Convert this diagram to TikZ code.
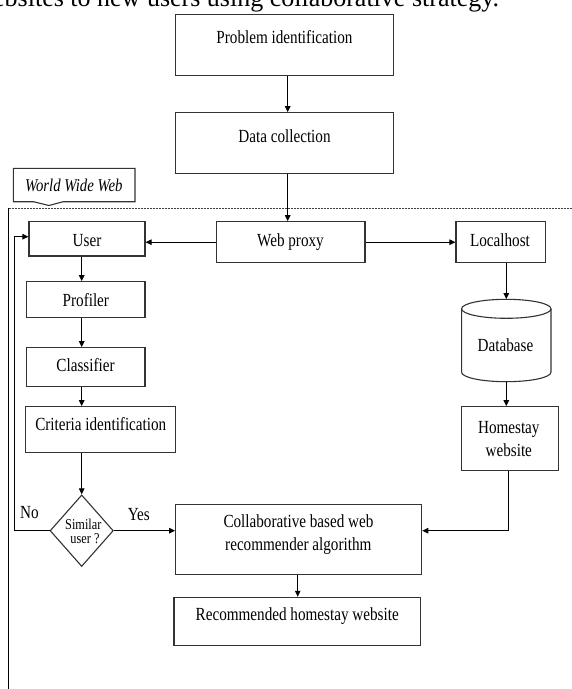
\documentclass[tikz,border=0pt]{standalone}
\usepackage{fontspec}
\setmainfont{Liberation Serif}
\newfontfamily\condfont{Liberation Serif}[FakeStretch=0.82]
\usetikzlibrary{arrows.meta,shapes.geometric,calc}
\tikzset{
  box/.style={draw=black!80, line width=1.1pt, fill=white, inner sep=0pt, rectangle},
  txt/.style={inner sep=0pt, anchor=base, font=\condfont\fontsize{18.5}{24}\selectfont, text=black},
  smalltxt/.style={inner sep=0pt, anchor=base, font=\condfont\fontsize{15}{17}\selectfont, text=black},
  arr/.style={draw=black, line width=1pt, -{Triangle[length=6pt,width=5.5pt]}},
  ln/.style={draw=black, line width=1pt},
  dashline/.style={draw=black!75, line width=0.8pt, dash pattern=on 2pt off 1pt},
}
\begin{document}
\begin{tikzpicture}[x=1pt,y=-1pt]
\useasboundingbox (0,0) rectangle (572,689);
\clip (0,0) rectangle (572,689);

% clipped running text at top
\node[inner sep=0pt, anchor=base east, font=\fontsize{26}{30}\selectfont] (head) at (499.3,6.5) {websites to new users using collaborative strategy.};

% helper coordinates
\coordinate (ax) at (287.7,0);
\coordinate (lx) at (81.7,0);
\coordinate (cx) at (297.7,0);

% frame lines
\coordinate (ol) at (8.7,208.3);
\coordinate (ob) at (8.7,689);
\coordinate (dr) at (572,208.3);
\draw[dashline] (ol) -- (dr);
\draw[ln] (ol) -- (ob);

% World Wide Web callout
\draw[draw=black!80, line width=1.1pt, fill=white] (13.3,168.3) -- (135,168.3) -- (135,201.7) -- (63.3,201.7) -- (49,205.5) -- (33.3,201.7) -- (13.3,201.7) -- cycle;
\node[txt, font=\condfont\itshape\fontsize{18}{24}\selectfont] (www) at (73.8,191.5) {World Wide Web};

% boxes
\node[box, minimum width=217.6pt, minimum height=60.6pt] (pi) at (284.5,45) {};
\node[txt] (tpi) at (284.5,43.5) {Problem identification};

\node[box, minimum width=217.6pt, minimum height=60.6pt] (dc) at (284.5,143) {};
\node[txt] (tdc) at (284.5,142.7) {Data collection};

\node[box, minimum width=116pt, minimum height=34.3pt] (user) at (87,238.85) {};
\node[txt] (tuser) at (87,246.5) {User};

\node[box, minimum width=148.3pt, minimum height=41pt] (wp) at (290.85,242.2) {};
\node[txt] (twp) at (290.5,246.5) {Web proxy};

\node[box, minimum width=89.3pt, minimum height=41pt] (lh) at (500.65,242.2) {};
\node[txt] (tlh) at (500,246.5) {Localhost};

\node[box, minimum width=118.3pt, minimum height=35.6pt] (prof) at (85.85,299.5) {};
\node[txt] (tprof) at (85.85,306) {Profiler};

\node[box, minimum width=118.3pt, minimum height=39pt] (cls) at (85.85,367.2) {};
\node[txt] (tcls) at (85.5,371.7) {Classifier};

\node[box, minimum width=150pt, minimum height=46pt] (crit) at (100.7,429.7) {};
\node[txt] (tcrit) at (100.8,430) {Criteria identification};

% database cylinder
\node[inner sep=0pt, minimum width=89.4pt, minimum height=82.4pt] (db) at (506.3,340.5) {};
\draw[draw=black!80, line width=1.1pt, fill=white] (461.6,308.8) -- (461.6,372.2) arc[start angle=180, end angle=0, x radius=44.7, y radius=9.5] -- (551,308.8);
\draw[draw=black!80, line width=1.1pt, fill=white] (506.3,308.8) ellipse [x radius=44.7, y radius=9.5];
\node[txt] (tdb) at (505.5,351.7) {Database};

\node[box, minimum width=97pt, minimum height=64pt] (hw) at (510.2,438.7) {};
\node[txt] (thw1) at (508.8,433.3) {Homestay};
\node[txt] (thw2) at (508.8,456.7) {website};

% decision
\node[draw=black!80, line width=1.1pt, fill=white, diamond, inner sep=0pt, minimum width=63.3pt, minimum height=71.6pt] (sim) at (81.7,530.7) {};
\node[smalltxt] (tsim1) at (83.3,529.3) {Similar};
\node[smalltxt] (tsim2) at (85,543.2) {user ?};

\node[box, minimum width=246pt, minimum height=70pt] (collab) at (298.7,539.7) {};
\node[txt] (tco1) at (298.5,527.3) {Collaborative based web};
\node[txt] (tco2) at (298.3,550.7) {recommender algorithm};

\node[box, minimum width=246.3pt, minimum height=48.4pt] (rec) at (297.15,621.5) {};
\node[txt] (trec) at (297.2,620.7) {Recommended homestay website};

\node[txt] (yes) at (138.8,520.7) {Yes};
\node[txt] (no) at (29.5,518.3) {No};

% connectors
\draw[arr] (pi.south -| ax) -- (dc.north -| ax);
\draw[arr] (dc.south -| ax) -- (wp.north -| ax);
\draw[arr] (wp.west) -- (wp.west -| user.east);
\draw[arr] (wp.east) -- (wp.east -| lh.west);
\draw[arr] (user.south -| lx) -- (prof.north -| lx);
\draw[arr] (prof.south -| lx) -- (cls.north -| lx);
\draw[arr] (cls.south -| lx) -- (crit.north -| lx);
\draw[arr] (crit.south -| lx) -- (sim.north);
\draw[arr] (sim.east) -- (sim.east -| collab.west);
\coordinate (fbb) at (14,530.7);
\coordinate (fbt) at (14,236.7);
\draw[arr] (sim.west) -- (fbb) -- (fbt) -- (fbt -| user.west);
\draw[arr] (lh.south -| db.north) -- (db.north);
\draw[arr] (db.south) -- (db.south |- hw.north);
\coordinate (hk) at (508.3,530.7);
\draw[arr] (hw.south -| hk) -- (hk) -- (hk -| collab.east);
\draw[arr] (collab.south -| cx) -- (rec.north -| cx);
\end{tikzpicture}
\end{document}
